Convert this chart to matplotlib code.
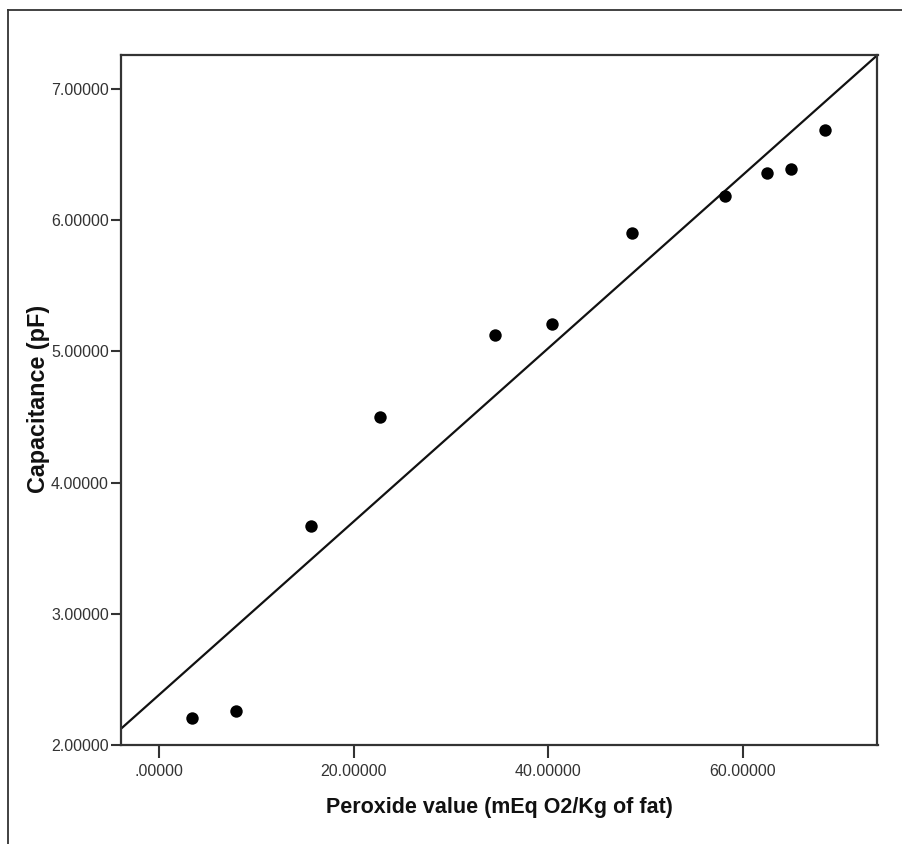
import matplotlib
matplotlib.use("Agg")
import matplotlib.pyplot as plt
from matplotlib.ticker import FuncFormatter
from matplotlib.lines import Line2D

peroxide = [3.36, 7.85, 15.6, 22.7, 34.5, 40.4, 48.55, 58.17, 62.44, 64.95, 68.42]
capacitance = [2.206, 2.259, 3.671, 4.498, 5.127, 5.207, 5.900, 6.182, 6.362, 6.388, 6.685]
fit_slope = 0.06603
fit_intercept = 2.384
x_ticks = [0, 20, 40, 60]
y_ticks = [2, 3, 4, 5, 6, 7]
x_label = "Peroxide value (mEq O2/Kg of fat)"
y_label = "Capacitance (pF)"

plt.rcParams['font.family'] = ['Liberation Sans', 'DejaVu Sans']

W, H = 903, 844
fig = plt.figure(figsize=(W / 100, H / 100), dpi=100)
ax = fig.add_axes([121.5 / W, 1 - 745 / H, 756 / W, 690 / H])

ax.set_xlim(-3.886, 73.83)
ax.set_ylim(2.0, 7.259)

ax.scatter(peroxide, capacitance, s=80, color='black', zorder=3, linewidths=0)
ax.axline((0, fit_intercept), slope=fit_slope, color='#111111', lw=1.6, zorder=2)

def fmt(v, pos):
    s = f"{v:.5f}"
    if s.startswith("0."):
        s = s[1:]
    return s

ax.xaxis.set_major_formatter(FuncFormatter(fmt))
ax.yaxis.set_major_formatter(FuncFormatter(fmt))
ax.set_xticks(x_ticks)
ax.set_yticks(y_ticks)

for sp in ax.spines.values():
    sp.set_linewidth(1.6)
    sp.set_color('#333333')

ax.tick_params(axis='both', direction='out', width=1.5, color='#333333',
               labelsize=11.5, labelcolor='#333333')
ax.tick_params(axis='x', length=9, pad=5)
ax.tick_params(axis='y', length=7, pad=2)

fig.text(499.5 / W, 1 - 807 / H, x_label, ha='center', va='center',
         fontsize=15.5, fontweight='bold', color='#111111')
fig.text(39 / W, 1 - 399 / H, y_label, ha='center', va='center', rotation=90,
         fontsize=16.8, fontweight='bold', color='#111111')

# outer frame (top and left only)
fig.add_artist(Line2D([8 / W, 8 / W], [0, 1 - 9.5 / H], transform=fig.transFigure,
                      color='#333333', lw=1.3))
fig.add_artist(Line2D([8 / W, 1], [1 - 9.5 / H, 1 - 9.5 / H], transform=fig.transFigure,
                      color='#333333', lw=1.3))

fig.savefig("out.png", dpi=100)
